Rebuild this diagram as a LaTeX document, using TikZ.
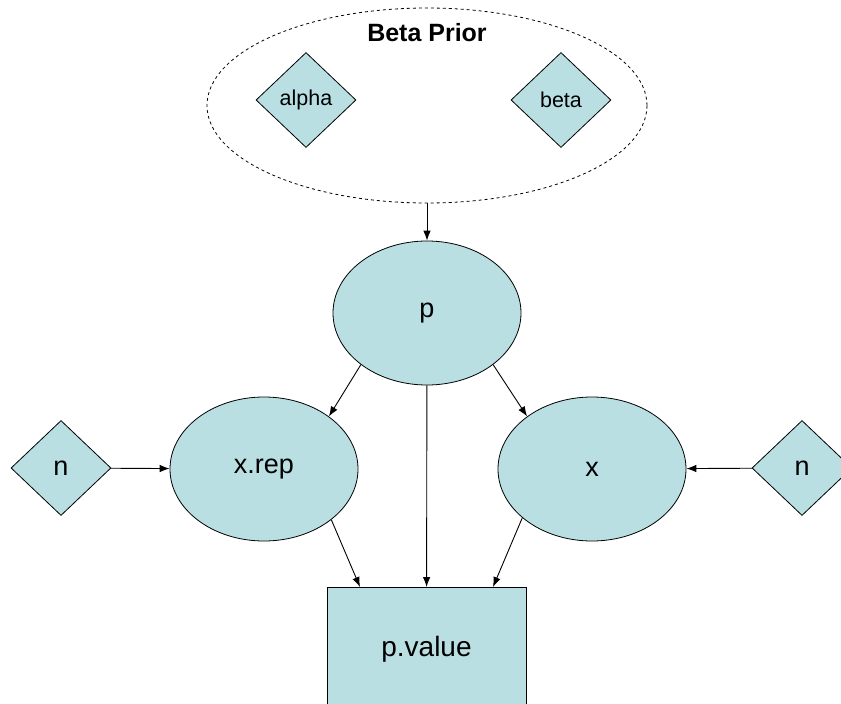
\documentclass[tikz,border=0pt]{standalone}
\usepackage{fontspec}
\setmainfont{Liberation Sans}
\usepackage{tikz}
\usetikzlibrary{shapes.geometric,arrows.meta}
\definecolor{nodefill}{RGB}{185,223,227}
\tikzset{
    stoch-node/.style = {draw, fill=nodefill, ellipse, inner sep=0pt, minimum width=188pt, minimum height=144pt, font=\fontsize{27}{32}\selectfont},
    const-node/.style = {draw, fill=nodefill, diamond, inner sep=0pt, minimum width=100pt, minimum height=95pt},
    result-box/.style = {draw, fill=nodefill, rectangle, inner sep=0pt, minimum width=199pt, minimum height=123pt, font=\fontsize{28}{33}\selectfont},
    prior-ellipse/.style = {draw, dashed, ellipse, inner sep=0pt, minimum width=440pt, minimum height=195pt},
    link/.style = {-{Latex[length=10pt,width=7.5pt]}, line width=0.9pt},
}

\begin{document}
\begin{tikzpicture}[x=1pt, y=-1pt, line width=0.8pt]
\path[use as bounding box, clip] (0,0) rectangle (841,704);
\node [prior-ellipse] (prior) at (427,105.5) {};
\node [font=\fontsize{25}{30}\selectfont\bfseries] (priortitle) at (427,33) {Beta Prior};
\node [const-node, font=\fontsize{21.5}{26}\selectfont] (alpha) at (306,100) {alpha};
\node [const-node, font=\fontsize{21.5}{26}\selectfont] (beta) at (561,100) {beta};

\node [stoch-node] (p) at (427,313) {p};
\node [stoch-node] (xrep) at (264,469) {x.rep};
\node [stoch-node] (x) at (592,469) {x};
\node [const-node, font=\fontsize{27}{32}\selectfont] (nleft) at (61,468) {n};
\node [const-node, font=\fontsize{27}{32}\selectfont] (nright) at (802,468) {n};
\node [result-box, anchor=north] (pvalue) at (426.5,587) {\raisebox{-6pt}{p.value}};
\coordinate (pv-left) at (360,587);
\coordinate (pv-right) at (493,587);

\draw [link] (prior) -- (p);
\draw [link] (p.218) -- (xrep.39);
\draw [link] (p.322) -- (x.141);
\draw [link] (p) -- (pvalue);
\draw [link] (xrep.323) -- (pv-left);
\draw [link] (x.215) -- (pv-right);
\draw [link] (nleft) -- (xrep);
\draw [link] (nright) -- (x);
\end{tikzpicture}
\end{document}
